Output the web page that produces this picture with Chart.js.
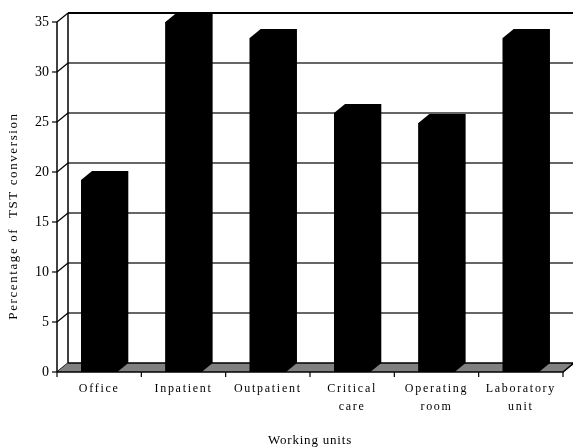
<!DOCTYPE html>
<html>
<head>
<meta charset="utf-8">
<script src="https://cdn.jsdelivr.net/npm/chart.js@4"></script>
<style>
  html, body { margin: 0; padding: 0; background: #fff; }
  #wrap { width: 573px; height: 447px; }
</style>
</head>
<body>
<div id="wrap"><canvas id="units-chart" width="573" height="447"></canvas></div>
<script>
const categories = ['Office', 'Inpatient', 'Outpatient', ['Critical', 'care'], ['Operating', 'room'], ['Laboratory', 'unit']];
const conversion = [19.2, 35, 33.4, 25.9, 24.9, 33.4];
const yTicks = [0, 5, 10, 15, 20, 25, 30, 35];

const SERIF = "'Liberation Serif', 'Times New Roman', serif";
const DX = 11, DY = 9;   // depth of the fake 3d box

const box3d = {
    id: 'box3d',
    afterLayout(chart) {
        // letter spaced category labels
        const sx = chart.scales.x;
        if (!sx._spaced) {
            const orig = sx.drawLabels;
            sx.drawLabels = function(area) {
                const c = this.ctx;
                c.save();
                c.letterSpacing = '1.7px';
                orig.call(this, area);
                c.restore();
            };
            sx._spaced = true;
        }
    },
    beforeDatasetsDraw(chart) {
        const ctx = chart.ctx;
        const xs = chart.scales.x, ys = chart.scales.y;
        const left = chart.chartArea.left, right = chart.chartArea.right;
        const bottom = ys.getPixelForValue(0);
        ctx.save();
        // back wall grid lines + side wall diagonals
        yTicks.forEach(function(v) {
            const py = ys.getPixelForValue(v);
            ctx.strokeStyle = v === 35 ? '#000' : '#333';
            ctx.lineWidth = v === 35 ? 2 : 1.5;
            if (v !== 0) {
                ctx.beginPath();
                ctx.moveTo(left + DX, py - DY);
                ctx.lineTo(chart.width + 5, py - DY);
                ctx.stroke();
            }
            ctx.strokeStyle = '#000';
            ctx.lineWidth = 1.2;
            ctx.beginPath();
            ctx.moveTo(left, py);
            ctx.lineTo(left + DX, py - DY);
            ctx.stroke();
            // tick mark
            ctx.beginPath();
            ctx.moveTo(left - 5, py);
            ctx.lineTo(left, py);
            ctx.stroke();
        });
        // back wall left edge
        ctx.lineWidth = 1.5;
        ctx.beginPath();
        ctx.moveTo(left + DX, ys.getPixelForValue(35) - DY);
        ctx.lineTo(left + DX, bottom - DY);
        ctx.stroke();
        // front axis line
        ctx.beginPath();
        ctx.moveTo(left, ys.getPixelForValue(35));
        ctx.lineTo(left, bottom);
        ctx.stroke();
        // floor
        ctx.fillStyle = '#808080';
        ctx.beginPath();
        ctx.moveTo(left, bottom);
        ctx.lineTo(right, bottom);
        ctx.lineTo(right + DX, bottom - DY);
        ctx.lineTo(left + DX, bottom - DY);
        ctx.closePath();
        ctx.fill();
        ctx.lineWidth = 1.5;
        ctx.beginPath();
        ctx.moveTo(left + DX, bottom - DY);
        ctx.lineTo(right + DX, bottom - DY);
        ctx.lineTo(right, bottom);
        ctx.lineTo(left, bottom);
        ctx.stroke();
        // x tick marks between categories
        ctx.lineWidth = 1.2;
        const step = xs.getPixelForValue(1) - xs.getPixelForValue(0);
        for (let i = 0; i <= categories.length; i++) {
            const px = i < categories.length ? xs.getPixelForValue(i) - step / 2 : right;
            ctx.beginPath();
            ctx.moveTo(px, bottom);
            ctx.lineTo(px, bottom + 5);
            ctx.stroke();
        }
        ctx.restore();
    },
    afterDatasetsDraw(chart) {
        const ctx = chart.ctx;
        const meta = chart.getDatasetMeta(0);
        ctx.save();
        ctx.fillStyle = '#000';
        meta.data.forEach(function(bar) {
            const p = bar.getProps(['x', 'y', 'base', 'width'], true);
            const l = p.x - p.width / 2, r = p.x + p.width / 2;
            // whole silhouette, front face included, so no seam shows
            ctx.beginPath();
            ctx.moveTo(l, p.base);
            ctx.lineTo(l, p.y);
            ctx.lineTo(l + DX, p.y - DY);
            ctx.lineTo(r + DX, p.y - DY);
            ctx.lineTo(r + DX, p.base - DY);
            ctx.lineTo(r, p.base);
            ctx.closePath();
            ctx.fill();
        });
        ctx.restore();
    },
    afterDraw(chart) {
        const ctx = chart.ctx;
        ctx.save();
        ctx.fillStyle = '#000';
        ctx.font = '13px ' + SERIF;
        ctx.textAlign = 'center';
        ctx.textBaseline = 'middle';
        ctx.letterSpacing = '1.6px';
        ctx.translate(14, 216);
        ctx.rotate(-Math.PI / 2);
        ctx.fillText('Percentage of  TST conversion', 0, 0);
        ctx.restore();
        ctx.save();
        ctx.fillStyle = '#000';
        ctx.font = '13px ' + SERIF;
        ctx.textAlign = 'center';
        ctx.textBaseline = 'middle';
        ctx.letterSpacing = '0.8px';
        ctx.fillText('Working units', (chart.chartArea.left + chart.chartArea.right) / 2, 441);
        ctx.restore();
    }
};

Chart.defaults.font.family = SERIF;
Chart.defaults.color = '#000';

const ctx = document.getElementById('units-chart');
const myChart = new Chart(ctx, {
    type: 'bar',
    data: {
        labels: categories,
        datasets: [{
            label: 'Percentage of TST conversion',
            data: conversion,
            backgroundColor: '#000',
            borderWidth: 0,
            barPercentage: 0.43,
            categoryPercentage: 1
        }]
    },
    options: {
        responsive: false,
        animation: false,
        events: [],
        layout: { padding: { top: 22, right: 10, left: 0, bottom: 0 } },
        plugins: {
            legend: { display: false },
            tooltip: { enabled: false }
        },
        scales: {
            x: {
                grid: { display: false, drawTicks: true, tickLength: 5 },
                border: { display: false },
                ticks: {
                    padding: 3,
                    maxRotation: 0,
                    autoSkip: false,
                    font: { size: 12, lineHeight: 1.5 }
                },
                afterFit(scale) { scale.height = 75; }
            },
            y: {
                min: 0,
                max: 35,
                grid: { display: false, drawTicks: true, tickLength: 5 },
                border: { display: false },
                ticks: {
                    stepSize: 5,
                    padding: 3,
                    font: { size: 14 }
                },
                afterFit(scale) { scale.width = 57; }
            }
        }
    },
    plugins: [box3d]
});
</script>
</body>
</html>
